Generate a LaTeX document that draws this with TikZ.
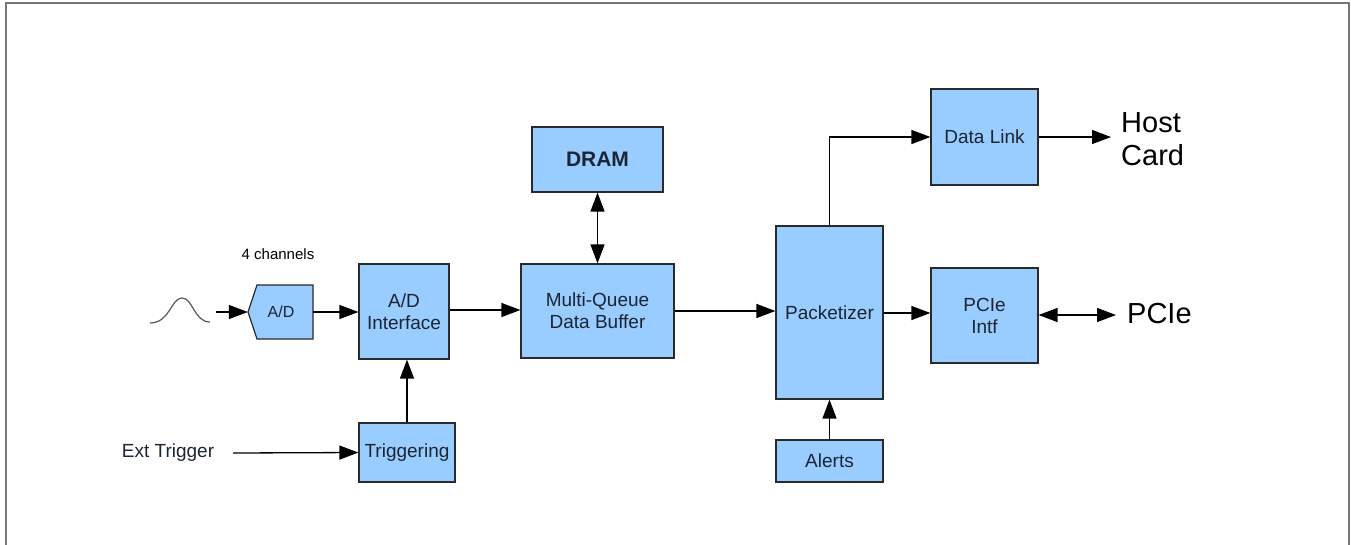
\documentclass[tikz,border=0pt]{standalone}
\usepackage{fontspec}
\setmainfont{Liberation Sans}
\usetikzlibrary{arrows.meta}
\definecolor{boxfill}{HTML}{99CCFF}
\definecolor{boxline}{HTML}{2A2A2A}
\definecolor{txt}{HTML}{1C2533}
\definecolor{framec}{HTML}{777777}
\begin{document}
\begin{tikzpicture}[x=1pt,y=-1pt,
  blk/.style={draw=boxline, fill=boxfill, line width=1.2pt, inner sep=0pt, align=center,
    text=txt, font=\fontsize{19}{22}\selectfont},
  conn/.style={draw=black, line width=1.3pt},
  arr/.style={conn, -{Triangle[length=19pt,width=14pt]}},
  darr/.style={conn, {Triangle[length=19pt,width=14pt]}-{Triangle[length=19pt,width=14pt]}},
  lbl/.style={text=black, inner sep=0pt}
]
\useasboundingbox (0,0) rectangle (1351,544);
\fill[white] (0,0) rectangle (1351,544);
\draw[framec, line width=1.5pt] (6,550) -- (6,3) -- (1349,3) -- (1349,550);

% A/D converter (pentagon)
\node[minimum width=65pt, minimum height=54pt, inner sep=0pt] (ad) at (280.5,312) {};
\draw[draw=boxline, fill=boxfill, line width=1.2pt]
  (257,285) -- (313,285) -- (313,339) -- (257,339) -- (248,312) -- cycle;
\node[text=txt, font=\fontsize{16}{19}\selectfont] at (281,312) {A/D};

% boxes
\node[blk, minimum width=90pt, minimum height=95pt] (adi) at (404,311.5) {A/D\\Interface};
\node[blk, minimum width=96pt, minimum height=59pt] (trig) at (407,452.5) {Triggering};
\node[blk, minimum width=153pt, minimum height=94pt] (buf) at (597.5,311) {Multi-Queue\\Data Buffer};
\node[blk, minimum width=131pt, minimum height=65pt, font=\fontsize{21}{24}\selectfont\bfseries] (dram) at (597.5,159.5) {DRAM};
\node[blk, minimum width=107pt, minimum height=173pt] (pack) at (829.5,312.5) {Packetizer};
\node[blk, minimum width=107pt, minimum height=42pt] (alerts) at (829.5,461) {Alerts};
\node[blk, minimum width=107pt, minimum height=96pt] (dlink) at (984.5,137) {Data Link};
\node[blk, minimum width=107pt, minimum height=95pt] (pcie) at (984.5,315.5) {PCIe\\Intf};

% labels
\node[lbl, font=\fontsize{15}{18}\selectfont] (ch) at (278,254) {4 channels};
\node[lbl, font=\fontsize{19}{22}\selectfont, text=txt] (ext) at (168,453) {Ext Trigger};
\node[lbl, anchor=west, align=left, font=\fontsize{29}{33}\selectfont] (host) at (1121,139) {Host\\Card};
\node[lbl, anchor=west, font=\fontsize{29}{33}\selectfont] (pcielbl) at (1127,314) {PCIe};

% analog signal
\draw[draw=black!65, line width=1.2pt] (150,323) .. controls (170,323) and (171,298) .. (182,298)
  .. controls (193,298) and (194,322) .. (210,322);
\coordinate (sig) at (216,312);
\coordinate (extstart) at (233,453);
\coordinate (hostend) at (1111,137);
\coordinate (pcieend) at (1116,315);

% connectors
\draw[arr] (sig) -- (ad.west);
\draw[arr] (ad.east) -- (ad.east -| adi.west);
\draw[arr] (trig.north) -- (trig.north |- adi.south);
\draw[arr] (extstart) -- (trig.west);
\draw[arr] (adi.east |- 0,310) -- (buf.west |- 0,310);
\draw[darr] (dram.south) -- (buf.north);
\draw[arr] (buf.east) -- (buf.east -| pack.west);
\draw[arr] (pack.north) |- (dlink.west);
\draw[arr] (dlink.east) -- (hostend);
\draw[arr] (pack.east |- 0,313) -- (pcie.west |- 0,313);
\draw[darr] (pcie.east |- pcieend) -- (pcieend);
\draw[arr] (alerts.north) -- (pack.south);
\end{tikzpicture}
\end{document}
